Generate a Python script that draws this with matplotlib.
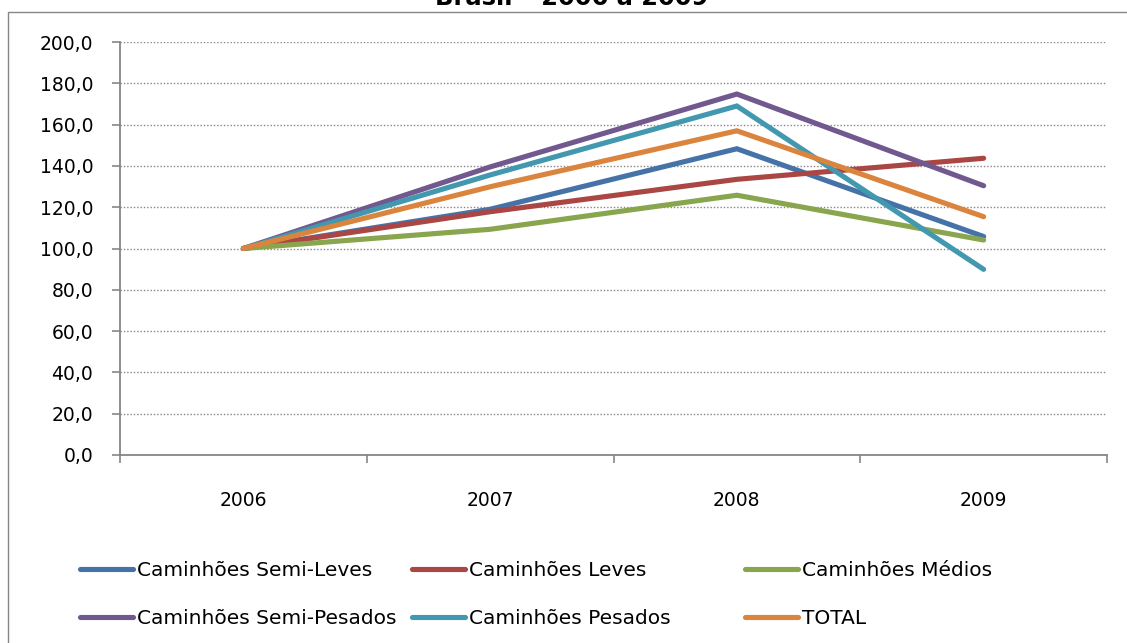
import matplotlib
matplotlib.use("Agg")
import matplotlib.pyplot as plt
from matplotlib.patches import Rectangle
from matplotlib.ticker import FuncFormatter, FixedLocator

# Index numbers (2006 = 100) of truck sales by category
years = ["2006", "2007", "2008", "2009"]
semi_leves = [100.0, 119.0, 148.3, 105.8]
leves = [100.0, 117.8, 133.5, 143.7]
medios = [100.0, 109.3, 125.8, 104.1]
semi_pesados = [100.0, 139.5, 174.8, 130.4]
pesados = [100.0, 135.6, 169.0, 89.9]
total = [100.0, 129.9, 157.0, 115.4]

series_names = ["Caminhões Semi-Leves", "Caminhões Leves", "Caminhões Médios",
                "Caminhões Semi-Pesados", "Caminhões Pesados", "TOTAL"]
series_values = [semi_leves, leves, medios, semi_pesados, pesados, total]
series_colors = ["#4572A7", "#AA4643", "#89A54E", "#71588F", "#4198AF", "#DB843D"]

W, H, DPI = 1127, 643, 100
fig = plt.figure(figsize=(W / DPI, H / DPI), dpi=DPI)
fig.patch.set_facecolor("white")

# plot area in pixel terms
left_px, right_px, top_px, bottom_px = 120, 1107, 42, 455
ax = fig.add_axes([left_px / W, 1 - bottom_px / H,
                   (right_px - left_px) / W, (bottom_px - top_px) / H])

grey = "#868686"
font = "DejaVu Sans"
fs = 13.5
legend_fs = 14.5

x = list(range(len(years)))
handles = []
for name, vals, col in zip(series_names, series_values, series_colors):
    (ln,) = ax.plot(x, vals, color=col, lw=3.7, label=name,
                    solid_capstyle="round", solid_joinstyle="miter", zorder=3)
    handles.append(ln)

ax.set_xlim(-0.5, len(years) - 0.5)
ax.set_ylim(0, 200)

# y axis
ax.set_yticks(range(0, 201, 20))
ax.yaxis.set_major_formatter(FuncFormatter(lambda v, p: f"{v:.1f}".replace(".", ",")))
ax.tick_params(axis="y", direction="out", length=5.8, width=1.2, color=grey,
               labelsize=fs, pad=13.5, labelcolor="black")
for lbl in ax.get_yticklabels():
    lbl.set_fontfamily(font)

# x axis: category labels centered, tick marks at category boundaries
ax.set_xticks(x)
ax.set_xticklabels(years, fontfamily=font, fontsize=fs)
ax.tick_params(axis="x", which="major", length=0, pad=26)
ax.xaxis.set_minor_locator(FixedLocator([i - 0.5 for i in range(len(years) + 1)]))
ax.tick_params(axis="x", which="minor", direction="out", length=5.8, width=1.2, color=grey)

ax.yaxis.grid(True, color=grey, linestyle=(0, (1, 1.4)), lw=1.0, zorder=1)
ax.set_axisbelow(True)
for s in ["top", "right"]:
    ax.spines[s].set_visible(False)
for s in ["left", "bottom"]:
    ax.spines[s].set_color(grey)
    ax.spines[s].set_linewidth(1.3)

# chart frame and title
fig.add_artist(Rectangle((8 / W, -0.1), 1.2, 1.1 - 12 / H, transform=fig.transFigure,
                         fill=False, ec=grey, lw=1.0))
fig.text(572 / W, 1 - 5 / H, "Brasil – 2006 a 2009", ha="center", va="baseline",
         fontsize=17.4, fontweight="bold", fontfamily=font)

# legend: three columns of two entries each
col_x = [80, 412, 745]
for c in range(3):
    hs = [handles[c], handles[c + 3]]
    fig.legend(hs, [h.get_label() for h in hs], loc="upper left",
               bbox_to_anchor=(col_x[c] / W, 1 - 561 / H), frameon=False,
               prop={"family": font, "size": legend_fs}, handlelength=2.64,
               handletextpad=0.2, labelspacing=1.42, borderpad=0, borderaxespad=0)

fig.savefig("out.png", dpi=DPI)
